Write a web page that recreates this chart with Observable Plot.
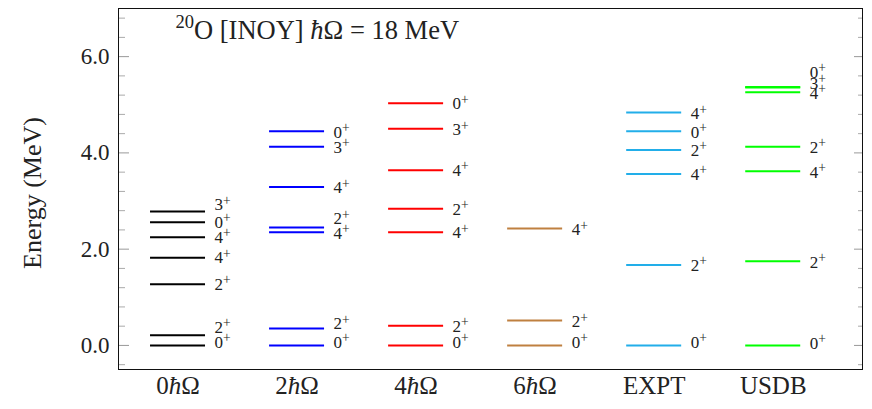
<!DOCTYPE html>
<html>
<head>
<meta charset="utf-8">
<script src="https://cdn.jsdelivr.net/npm/d3@7"></script>
<script src="https://cdn.jsdelivr.net/npm/@observablehq/plot@0.6"></script>
<style>
  html, body { margin: 0; padding: 0; background: white; }
  #chart svg { display: block; }
</style>
</head>
<body>
<div id="chart"></div>
<script>
// ---- data ----
const categories = ["0ħΩ", "2ħΩ", "4ħΩ", "6ħΩ", "EXPT", "USDB"];
const colors = ["#000000", "#0000ff", "#ff0000", "#bf8040", "#22aee9", "#00ff00"];

const energies0 = [0.00, 0.21, 1.27, 1.82, 2.25, 2.56, 2.78];
const spins0    = ["0", "2", "2", "4", "4", "0", "3"];
const labelAt0  = [0.07, 0.38, 1.27, 1.82, 2.25, 2.56, 2.92];

const energies2 = [0.00, 0.35, 2.35, 2.45, 3.29, 4.13, 4.45];
const spins2    = ["0", "2", "4", "2", "4", "3", "0"];
const labelAt2  = [0.07, 0.45, 2.33, 2.63, 3.27, 4.11, 4.42];

const energies4 = [0.00, 0.41, 2.35, 2.84, 3.64, 4.50, 5.03];
const spins4    = ["0", "2", "4", "2", "4", "3", "0"];
const labelAt4  = [0.07, 0.39, 2.34, 2.83, 3.63, 4.48, 5.02];

const energies6 = [0.00, 0.52, 2.43];
const spins6    = ["0", "2", "4"];
const labelAt6  = [0.07, 0.49, 2.40];

const energiesExpt = [0.00, 1.67, 3.56, 4.06, 4.45, 4.84];
const spinsExpt    = ["0", "2", "4", "2", "0", "4"];
const labelAtExpt  = [0.06, 1.66, 3.56, 4.05, 4.43, 4.81];

const energiesUsdb = [0.00, 1.75, 3.62, 4.13, 5.26, 5.36, 5.37];
const spinsUsdb    = ["0", "2", "4", "2", "4", "3", "0"];
const labelAtUsdb  = [0.04, 1.73, 3.60, 4.11, 5.23, 5.45, 5.67];

const majorTicks = [0, 2, 4, 6];
const minorTicks = [-0.4, 0.4, 0.8, 1.2, 1.6, 2.4, 2.8, 3.2, 3.6, 4.4, 4.8, 5.2, 5.6, 6.4, 6.8];

const title = "O [INOY] ħΩ = 18 MeV";
const titleMass = "20";
const yLabel = "Energy (MeV)";

// ---- table built from the arrays ----
const columns = [
  [energies0, spins0, labelAt0],
  [energies2, spins2, labelAt2],
  [energies4, spins4, labelAt4],
  [energies6, spins6, labelAt6],
  [energiesExpt, spinsExpt, labelAtExpt],
  [energiesUsdb, spinsUsdb, labelAtUsdb]
];
const levels = columns.flatMap(([E, S, L], col) =>
  E.map((e, j) => ({col, energy: e, spin: S[j], labelAt: L[j]})));

const half = 0.231; // half width of a level bar, in column units
const serif = "'Liberation Serif', 'DejaVu Serif', serif";

const svg = Plot.plot({
  width: 872,
  height: 409,
  marginLeft: 118,
  marginRight: 10,
  marginTop: 8,
  marginBottom: 40,
  x: {domain: [-0.5, 5.75]},
  y: {domain: [-0.5, 7]},
  style: {fontFamily: serif, background: "white", color: "#222"},
  marks: [
    // tick marks inside the frame, left and right (shifted inward)
    Plot.axisY({anchor: "left", ticks: minorTicks, tickSize: 7, dx: 7, tickFormat: () => "", label: null, stroke: "#aaa"}),
    Plot.axisY({anchor: "left", ticks: majorTicks, tickSize: 11, dx: 11, tickFormat: () => "", label: null, stroke: "#999"}),
    Plot.axisY({anchor: "right", ticks: minorTicks, tickSize: 5, dx: -5, tickFormat: () => "", label: null, stroke: "#aaa"}),
    Plot.axisY({anchor: "right", ticks: majorTicks, tickSize: 9, dx: -9, tickFormat: () => "", label: null, stroke: "#999"}),
    // y tick labels
    Plot.axisY({anchor: "left", ticks: majorTicks, tickSize: 0, tickPadding: 9, tickFormat: d3.format(".1f"), label: null, fontSize: 23, fontFamily: serif}),
    // x tick labels
    Plot.axisX({ticks: d3.range(categories.length), tickSize: 0, tickPadding: 7, tickFormat: i => categories[i], label: null, fontSize: 25, fontFamily: serif}),
    Plot.frame({stroke: "#111", strokeWidth: 1}),
    // levels
    Plot.ruleY(levels, {
      y: "energy",
      x1: d => d.col - half,
      x2: d => d.col + half,
      stroke: d => colors[d.col],
      strokeWidth: 2
    }),
    Plot.text(levels, {
      x: d => d.col + half,
      y: "labelAt",
      text: d => d.spin + "+",
      dx: 9,
      textAnchor: "start",
      fontSize: 17,
      fontFamily: serif,
      fill: "#222"
    }),
    // title
    Plot.text([title], {
      frameAnchor: "top-left",
      text: d => d,
      dx: 57,
      dy: 19,
      textAnchor: "start",
      lineAnchor: "middle",
      fontSize: 26.5,
      fontFamily: serif
    }),
    // y axis label
    Plot.text([yLabel], {
      frameAnchor: "left",
      text: d => d,
      rotate: -90,
      dx: -86,
      dy: 4,
      textAnchor: "middle",
      lineAnchor: "middle",
      fontSize: 26,
      fontFamily: serif
    })
  ]
});

// superscripts and italic ħ (post-processing of the rendered text)
const root = d3.select(svg);
function italicHbar(sel, t) {
  const parts = t.split("ħ");
  parts.forEach((p, k) => {
    if (p) sel.append("tspan").text(p);
    if (k < parts.length - 1) sel.append("tspan").attr("font-style", "italic").text("ħ");
  });
}
root.selectAll("text").each(function() {
  const t = this.textContent;
  if (this.querySelector("tspan")) return;
  const sel = d3.select(this);
  if (/^\d\+$/.test(t)) {
    sel.text(null);
    sel.append("tspan").text(t.slice(0, -1));
    sel.append("tspan").attr("dy", "-0.42em").attr("font-size", "0.8em").text("+");
  } else if (t === title) {
    sel.text(null);
    sel.append("tspan").attr("font-size", "0.7em").attr("dy", "-0.42em").text(titleMass);
    const rest = sel.append("tspan").attr("dy", "0.42em");
    italicHbar(rest, t);
  } else if (categories.includes(t) && t.includes("ħ")) {
    sel.text(null);
    italicHbar(sel, t);
  }
});

document.getElementById("chart").appendChild(svg);
</script>
</body>
</html>
